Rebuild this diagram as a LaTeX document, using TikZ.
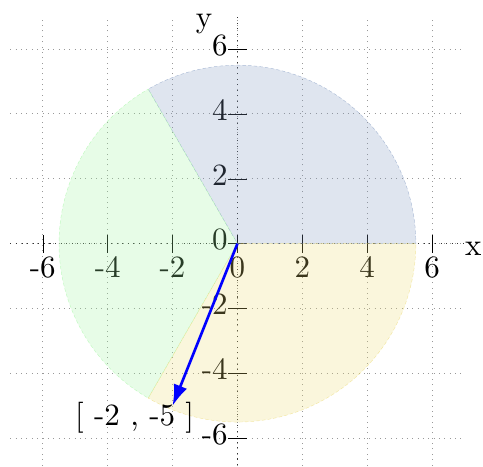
\documentclass[tikz,border=0pt]{standalone}
\usetikzlibrary{arrows.meta}
\definecolor{secblue}{RGB}{128,152,192}
\definecolor{secgreen}{RGB}{160,245,160}
\definecolor{secyellow}{RGB}{235,218,115}

\begin{document}
\begin{tikzpicture}[
  lab/.style={scale=2.72},
  gridline/.style={gray!80,loosely dotted,line width=0.7pt},
  axisline/.style={black!80,loosely dotted,line width=0.9pt},
  tickline/.style={thin},
  sector/.style={fill=#1,fill opacity=0.25,draw=#1,draw opacity=0.6,densely dashed,thin},
  vec/.style={-{Latex[length=6.5mm,width=4.4mm]},blue,line width=2.3pt}]
  \useasboundingbox (-7.32,-6.86) rectangle (7.57,7.51);
  \draw[gridline] (-7,-7) grid[step=2] (7,7);
  \coordinate (O) at (0,0);
  \coordinate (P) at (-2,-5);
  \draw[axisline] (-7,0) -- (7,0);
  \draw[axisline] (0,-7) -- (0,7);
  \node[lab] (xlab) at (7.27,-0.15) {x};
  \node[lab] (ylab) at (-1.03,6.77) {y};
  \foreach \v in {-6,-4,...,6}{
    \draw[tickline] (\v,-0.28) -- (\v,0.28);
    \draw[tickline] (-0.28,\v) -- (0.28,\v);
    \node[lab,anchor=north,inner sep=0] (xt\v) at (\v,-0.38) {\v};
    \node[lab,anchor=east,inner sep=0] (yt\v) at (-0.28,\v+0.12) {\v};
  }
  \draw[sector=secblue] (O) -- (0:5.5) arc[start angle=0,end angle=120,radius=5.5] -- cycle;
  \draw[sector=secgreen] (O) -- (120:5.5) arc[start angle=120,end angle=240,radius=5.5] -- cycle;
  \draw[sector=secyellow] (O) -- (240:5.5) arc[start angle=240,end angle=360,radius=5.5] -- cycle;
  \draw[vec] (O) -- (P);
  \node[lab] (plab) at (-3.17,-5.38) {[ -2 , -5 ]};
\end{tikzpicture}
\end{document}
